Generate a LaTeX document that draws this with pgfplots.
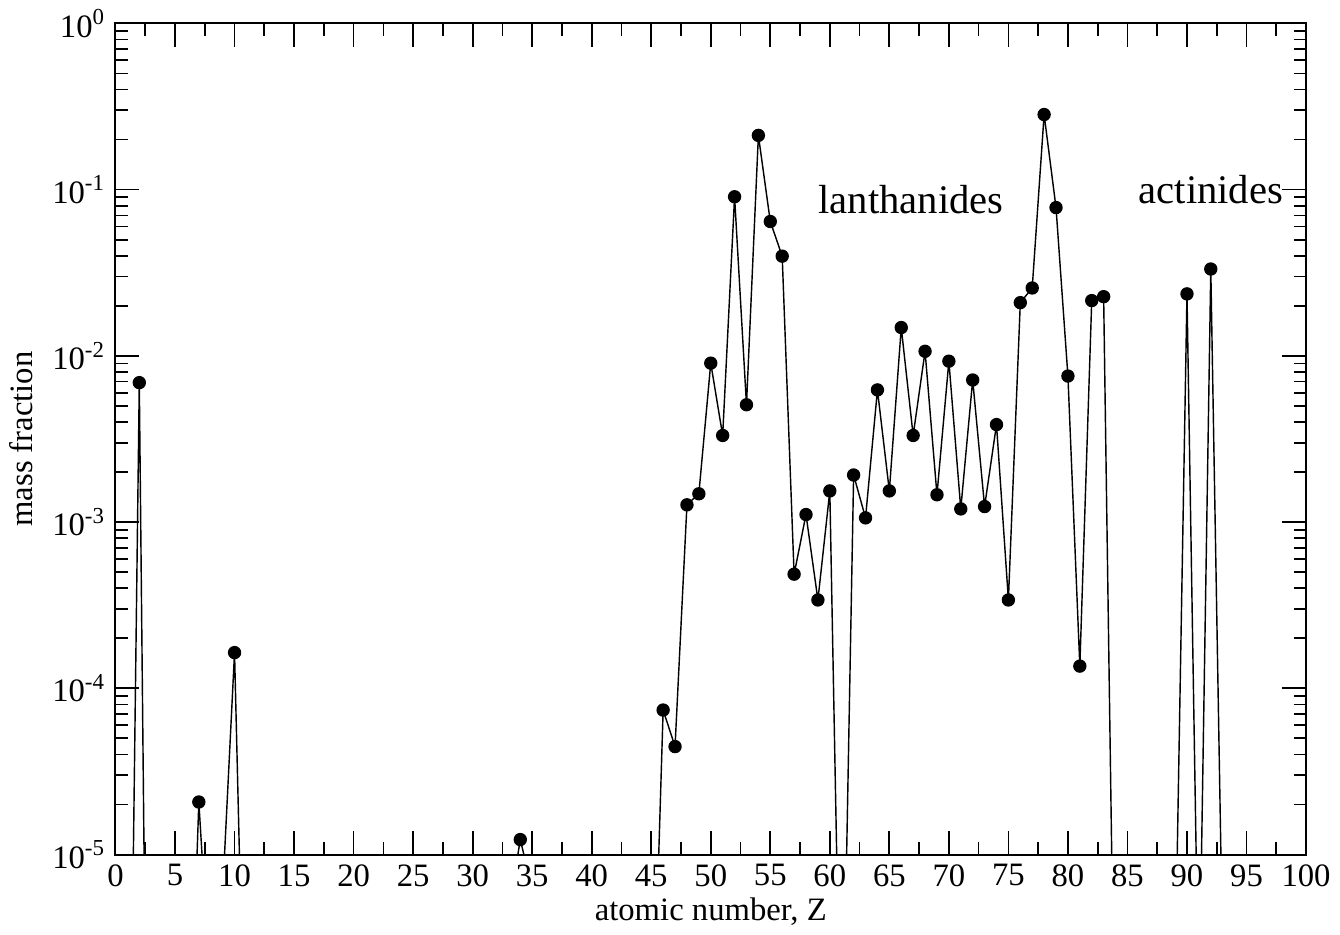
\documentclass[border=0pt]{standalone}
\usepackage{fontspec}
\setmainfont{Liberation Serif}
\usepackage{pgfplots}
\pgfplotsset{compat=1.18}

\begin{document}
\begin{tikzpicture}
\begin{axis}[
  scale only axis,
  width=419pt, height=292.5pt,
  ymode=log,
  xmin=0, xmax=100, ymin=1e-5, ymax=1,
  xtick distance=5, minor x tick num=1,
  ytick={1e-5,1e-4,1e-3,1e-2,1e-1,1},
  yticklabel={10\textsuperscript{\pgfmathparse{int(round(\tick/ln(10)))}\pgfmathresult}},
  tick align=inside,
  major tick length=8.3pt, minor tick length=4.3pt,
  every tick/.style={black, line width=0.6pt},
  axis line style={line width=0.7pt},
  /pgf/number format/assume math mode=true,
  tick label style={font=\fontsize{11.5}{14}\selectfont},
  label style={font=\fontsize{11.5}{14}\selectfont},
  xlabel={atomic number, Z},
  ylabel={mass fraction},
  xlabel style={yshift=3pt},
]
% near-zero abundances sit below the axis and are clipped away
\addplot[black, line width=0.5pt, mark=*, mark size=2.1pt] coordinates {
  (1,1.4e-8) (2,6.9e-3) (3,5.5e-10)
  (6,1.6e-7) (7,2.07e-5) (8,1.4e-6) (9,5.9e-6) (10,1.64e-4) (11,1.8e-7)
  (33,4.4e-6) (34,1.23e-5) (35,6.2e-6)
  (45,3.3e-7) (46,7.4e-5) (47,4.46e-5) (48,1.27e-3) (49,1.48e-3)
  (50,9.04e-3) (51,3.32e-3) (52,0.0906) (53,5.08e-3) (54,0.212)
  (55,0.0643) (56,0.0398) (57,4.86e-4) (58,1.11e-3) (59,3.40e-4)
  (60,1.54e-3) (61,2.5e-7) (62,1.92e-3) (63,1.06e-3) (64,6.24e-3)
  (65,1.54e-3) (66,0.0148) (67,3.32e-3) (68,0.01065) (69,1.46e-3)
  (70,9.29e-3) (71,1.20e-3) (72,7.16e-3) (73,1.24e-3) (74,3.86e-3)
  (75,3.40e-4) (76,0.0209) (77,0.0256) (78,0.283) (79,0.078)
  (80,7.56e-3) (81,1.36e-4) (82,0.0215) (83,0.0227) (84,2.6e-7)
  (89,1.8e-6) (90,0.0236) (91,1.0e-6) (92,0.0333) (93,2.4e-6)
};
\node[anchor=base west, font=\fontsize{14.3}{17}\selectfont] at (axis cs:58.2,0.0718) {lanthanides};
\node[anchor=base west, font=\fontsize{14.3}{17}\selectfont] at (axis cs:85.1,0.0822) {actinides};
\end{axis}
\end{tikzpicture}
\end{document}
